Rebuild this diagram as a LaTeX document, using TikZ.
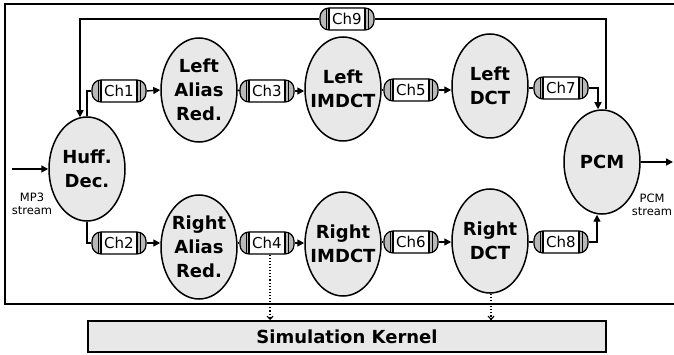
\documentclass[tikz,border=0pt]{standalone}
\usepackage{fontspec}
\setmainfont{DejaVu Sans}
\usetikzlibrary{arrows.meta,shapes.geometric}
\begin{document}
\begin{tikzpicture}[x=1pt,y=-1pt,
  proc/.style={ellipse, draw, line width=1.5pt, fill=gray!18, minimum width=76pt, minimum height=104pt, inner xsep=-6pt, inner ysep=0pt, align=center, font=\bfseries\fontsize{18}{24}\selectfont},
  chan/.style={rectangle, rounded corners=9pt, draw, line width=1.2pt, fill=gray!55, minimum width=54pt, minimum height=22pt, inner sep=0pt, font=\fontsize{15}{16}\selectfont,
    path picture={
      \draw[sharp corners,fill=white,line width=1.2pt] ([xshift=-18pt,yshift=-12pt]path picture bounding box.center) rectangle ([xshift=18pt,yshift=12pt]path picture bounding box.center);
      \draw[sharp corners,line width=0.9pt] ([xshift=-21pt,yshift=-12pt]path picture bounding box.center) -- ([xshift=-21pt,yshift=12pt]path picture bounding box.center);
      \draw[sharp corners,line width=0.9pt] ([xshift=21pt,yshift=-12pt]path picture bounding box.center) -- ([xshift=21pt,yshift=12pt]path picture bounding box.center);}},
  wire/.style={line width=1.4pt},
  arr/.style={wire, -{Triangle[length=7pt,width=7pt]}},
  dots/.style={dotted, line width=1.1pt, -{Straight Barb[length=3pt,width=6pt]}},
  lbl/.style={align=center, font=\fontsize{11.5}{13.5}\selectfont}
]
\useasboundingbox (0,0) rectangle (674,355);
\draw[line width=1.6pt] (680,4) -- (5,4) -- (5,304) -- (680,304);

% processes
\node[proc] (huff) at (87,169) {Huff.\\Dec.};
\node[proc] (la) at (199,90) {Left\\Alias\\Red.};
\node[proc] (lim) at (343,89) {Left\\IMDCT};
\node[proc] (ld) at (490,86) {Left\\DCT};
\node[proc] (pcm) at (602,162) {PCM};
\node[proc] (ra) at (199,247) {Right\\Alias\\Red.};
\node[proc] (rim) at (343,244) {Right\\IMDCT};
\node[proc] (rd) at (490,241) {Right\\DCT};

% channels
\node[chan] (ch1) at (119,91) {Ch1};
\node[chan] (ch3) at (267,91) {Ch3};
\node[chan] (ch5) at (411,90) {Ch5};
\node[chan] (ch7) at (561,88) {Ch7};
\node[chan] (ch9) at (347,19) {Ch9};
\node[chan] (ch2) at (119,243) {Ch2};
\node[chan] (ch4) at (267,243) {Ch4};
\node[chan] (ch6) at (411,242) {Ch6};
\node[chan] (ch8) at (561,242) {Ch8};

% kernel
\node[draw, line width=1.5pt, fill=gray!18, minimum width=518pt, minimum height=31pt, inner sep=0pt, font=\bfseries\fontsize{18}{20}\selectfont] (kern) at (347,336.5) {Simulation Kernel};

% top row
\draw[wire] (huff.north) |- (ch1.west);
\draw[arr] (ch1.east) -- (la.west);
\draw[wire] (la.east) -- (ch3.west);
\draw[arr] (ch3.east) -- (lim.west |- ch3.east);
\draw[wire] (lim.east |- ch5.west) -- (ch5.west);
\draw[arr] (ch5.east) -- (ld.west |- ch5.east);
\draw[wire] (ld.east |- ch7.west) -- (ch7.west);
\coordinate (pcmin) at ([xshift=-4pt]pcm.north);
\draw[arr] (ch7.east) -| (pcmin);

% feedback
\coordinate (pcmout) at ([xshift=4pt]pcm.north);
\coordinate (huffin) at ([xshift=-7pt,yshift=-1pt]huff.north);
\draw[wire] (pcmout) |- (ch9.east);
\draw[arr] (ch9.west) -| (huffin);

% bottom row
\draw[wire] (huff.south) |- (ch2.west);
\draw[arr] (ch2.east) -- (ra.west |- ch2.east);
\draw[wire] (ra.east |- ch4.west) -- (ch4.west);
\draw[arr] (ch4.east) -- (rim.west |- ch4.east);
\draw[wire] (rim.east |- ch6.west) -- (ch6.west);
\draw[arr] (ch6.east) -- (rd.west |- ch6.east);
\draw[wire] (rd.east |- ch8.west) -- (ch8.west);
\coordinate (pcmin2) at ([xshift=-5pt]pcm.south);
\draw[arr] (ch8.east) -| (pcmin2);

% in / out
\coordinate (src) at (12,169);
\draw[arr] (src) -- (huff.west);
\node[lbl] (mp3) at (32,204) {MP3\\stream};
\coordinate (snk) at (673,162);
\draw[arr] (pcm.east) -- (snk);
\node[lbl] (pcms) at (652,205) {PCM\\stream};

% kernel links
\coordinate (k4) at (270,320);
\coordinate (kd) at (491,320);
\draw[dots] ([xshift=3pt]ch4.south) -- (k4);
\draw[dots] ([xshift=1pt]rd.south) -- (kd);
\end{tikzpicture}
\end{document}
